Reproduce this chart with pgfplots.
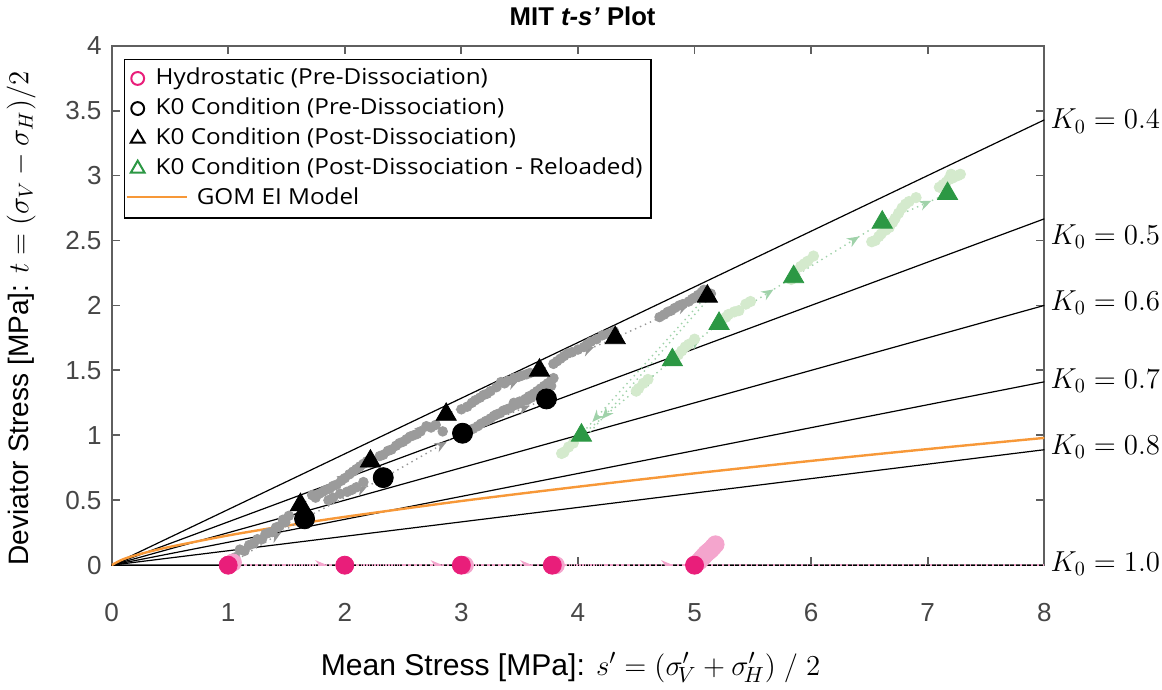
\documentclass[border=0pt]{standalone}
\usepackage{fontspec}
\setmainfont{Liberation Sans}
\newfontfamily\legfont[FakeStretch=1.1]{Open Sans}
\usepackage{pgfplots}
\pgfplotsset{compat=1.18}
\usetikzlibrary{decorations.markings, arrows.meta}
\definecolor{pinkc}{RGB}{233,30,122}
\definecolor{pinkl}{RGB}{244,165,205}
\definecolor{greenc}{RGB}{44,152,68}
\definecolor{greenl}{RGB}{212,234,205}
\definecolor{greena}{RGB}{160,210,170}
\definecolor{grayd}{RGB}{155,155,155}
\definecolor{graya}{RGB}{150,150,150}
\definecolor{orangec}{RGB}{247,152,56}
\definecolor{axisgray}{RGB}{95,95,95}
\definecolor{ticklab}{RGB}{70,70,70}
\tikzset{
  seg/.style={dotted, line width=0.7pt, postaction={decorate},
    decoration={markings, mark=at position #1 with {\arrow{Stealth[length=6pt,width=5pt]}}}},
  seg/.default=0.8
}
\begin{document}
\begin{tikzpicture}
\begin{axis}[
  width=465pt, height=259pt, scale only axis,
  xmin=0, xmax=8, ymin=0, ymax=4,
  xtick={0,1,...,8}, ytick={0,0.5,...,4},
  tick align=inside, major tick length=4pt,
  axis line style={draw=axisgray, line width=1pt},
  every tick/.style={draw=axisgray, line width=0.9pt},
  tick label style={font=\fontsize{13}{15}\selectfont, text=ticklab},
  /pgf/number format/assume math mode=true,
  xticklabel style={yshift=-15.5pt},
  yticklabel style={xshift=-1.5pt},
  clip mode=individual,
  title={\fontsize{12.8}{14}\selectfont\bfseries MIT \textit{t-s’} Plot},
  title style={at={(axis description cs:0.505,1)}, above, yshift=0.5pt},
  xlabel={\fontsize{15}{17}\selectfont Mean Stress [MPa]: $s' = \bigl(\sigma'_{\!V} + \sigma'_{\!H}\bigr)\;/\;2$},
  xlabel style={at={(axis description cs:0.492,-0.197)}, anchor=center},
  ylabel={\fontsize{14}{16}\selectfont Deviator Stress [MPa]: $t = \bigl(\sigma_{V} - \sigma_{H}\bigr)/2$},
  ylabel style={at={(axis description cs:-0.097,0.475)}, anchor=center},
  legend style={at={(axis description cs:0,1)}, anchor=north west, xshift=6pt, yshift=-6.5pt,
    draw=black, line width=0.7pt, font=\legfont\fontsize{11}{13}\selectfont,
    inner xsep=3.2pt, inner ysep=3pt, row sep=2pt, column sep=4.5pt,
    nodes={inner sep=1pt, text height=8.5pt, text depth=2.5pt}},
  legend cell align=left,
  legend image code/.code={\draw[mark repeat=2, mark phase=2, #1] plot coordinates {(0pt,0pt) (3pt,0pt) (6pt,0pt)};},
]
% legend
\addlegendimage{only marks, mark=o, mark size=3.2pt, draw=pinkc, line width=1pt}
\addlegendentry{Hydrostatic (Pre-Dissociation)}
\addlegendimage{only marks, mark=o, mark size=3.2pt, draw=black, line width=1pt}
\addlegendentry{K0 Condition (Pre-Dissociation)}
\addlegendimage{only marks, mark=triangle, mark size=4pt, draw=black, line width=1pt}
\addlegendentry{K0 Condition (Post-Dissociation)}
\addlegendimage{only marks, mark=triangle, mark size=4pt, draw=greenc, line width=1pt}
\addlegendentry{K0 Condition (Post-Dissociation - Reloaded)}
\addlegendimage{legend image code/.code={}}
\addlegendentry{\hspace*{-14.5pt}\textcolor{orangec}{\rule[0.3em]{30pt}{1.2pt}}\hspace*{5pt}GOM EI Model}

% K0 lines
\addplot[black, line width=0.6pt, forget plot] coordinates {(0,0) (8,3.4286)};
\addplot[black, line width=0.6pt, forget plot] coordinates {(0,0) (8,2.6667)};
\addplot[black, line width=0.6pt, forget plot] coordinates {(0,0) (8,2.0)};
\addplot[black, line width=0.6pt, forget plot] coordinates {(0,0) (8,1.4118)};
\addplot[black, line width=0.6pt, forget plot] coordinates {(0,0) (8,0.8889)};
\addplot[black, line width=0.6pt, forget plot] coordinates {(0,0) (8,0)};
% GOM EI model
\addplot[orangec, line width=1.2pt, smooth, forget plot] coordinates {
(0,0) (0.1,0.046) (0.25,0.087) (0.5,0.141) (1,0.229) (1.5,0.304) (2,0.372)
(3,0.494) (4,0.604) (5,0.707) (6,0.803) (7,0.894) (8,0.98)};

% hydrostatic dotted path with arrows
\addplot[pinkl, dotted, line width=0.8pt, forget plot] coordinates {(1,0) (8,0)};
\addplot[pinkl, seg=0.85, forget plot] coordinates {(1,0) (2,0)};
\addplot[pinkl, seg=0.84, forget plot] coordinates {(2,0) (3,0)};
\addplot[pinkl, seg=0.78, forget plot] coordinates {(3,0) (3.78,0)};
\addplot[pinkl, seg=0.85, forget plot] coordinates {(3.78,0) (5,0)};

% gray dotted paths
\addplot[graya, seg=0.7, forget plot] coordinates {(1.0,0.0) (1.65,0.36)};
\addplot[graya, seg=0.8, forget plot] coordinates {(1.65,0.36) (2.33,0.67)};
\addplot[graya, seg=0.8, forget plot] coordinates {(2.33,0.67) (3.01,1.02)};
\addplot[graya, seg=0.8, forget plot] coordinates {(3.01,1.02) (3.73,1.28)};
\addplot[graya, seg=0.7, forget plot] coordinates {(1.62,0.465) (2.22,0.80)};
\addplot[graya, seg=0.75, forget plot] coordinates {(2.22,0.80) (2.87,1.16)};
\addplot[graya, seg=0.78, forget plot] coordinates {(2.87,1.16) (3.67,1.50)};
\addplot[graya, seg=0.72, forget plot] coordinates {(3.67,1.50) (4.32,1.75)};
\addplot[graya, seg=0.8, forget plot] coordinates {(4.32,1.75) (5.11,2.07)};

% green dotted paths
\addplot[greena, seg=0.93, forget plot] coordinates {(5.08,2.05) (4.05,1.03)};
\addplot[greena, seg=0.9, forget plot] coordinates {(5.13,2.06) (4.10,1.02)};
\addplot[greena, seg=0.8, forget plot] coordinates {(4.03,1.0) (4.81,1.58)};
\addplot[greena, seg=0.6, forget plot] coordinates {(4.81,1.58) (5.21,1.86)};
\addplot[greena, seg=0.73, forget plot] coordinates {(5.21,1.86) (5.85,2.22)};
\addplot[greena, seg=0.74, forget plot] coordinates {(5.85,2.22) (6.61,2.64)};
\addplot[greena, seg=0.75, forget plot] coordinates {(6.61,2.64) (7.17,2.86)};

% gray scatter
\addplot[grayd, only marks, mark=*, mark size=2.4pt, forget plot] coordinates {
(1.06,0.06) (1.10,0.12) (1.14,0.11) (1.18,0.155) (1.22,0.17) (1.25,0.20) (1.29,0.20) (1.32,0.24) (1.35,0.25) (1.38,0.255) (1.41,0.29) (1.44,0.30) (1.47,0.35) (1.52,0.38) (1.49,0.33)
(1.72,0.54) (1.75,0.52) (1.78,0.55) (1.81,0.565) (1.84,0.58) (1.87,0.59) (1.90,0.61) (1.93,0.62) (1.97,0.65) (2.0,0.67) (2.04,0.70) (2.07,0.72) (2.10,0.74) (2.13,0.76) (2.16,0.78) (2.19,0.80)
(2.30,0.84) (2.33,0.85) (2.37,0.88) (2.40,0.89) (2.44,0.92) (2.47,0.94) (2.50,0.95) (2.53,0.97) (2.56,0.99) (2.59,1.00) (2.62,1.01) (2.65,1.03) (2.70,1.07) (2.74,1.06) (2.78,1.08) (2.84,1.03)
(1.86,0.50) (1.90,0.52) (1.96,0.55) (2.02,0.565) (2.06,0.58) (2.10,0.60) (2.16,0.64)
(3.0,1.20) (3.05,1.22) (3.09,1.25) (3.12,1.27) (3.16,1.29) (3.19,1.31) (3.22,1.32) (3.25,1.34) (3.30,1.37) (3.34,1.41) (3.37,1.40) (3.40,1.42) (3.45,1.44) (3.49,1.45) (3.52,1.46) (3.56,1.47) (3.59,1.48)
(3.06,1.04) (3.10,1.05) (3.14,1.07) (3.17,1.09) (3.21,1.11) (3.25,1.13) (3.28,1.15) (3.30,1.16) (3.33,1.17) (3.36,1.19) (3.39,1.20) (3.42,1.21) (3.45,1.23) (3.48,1.24) (3.52,1.26) (3.55,1.28) (3.58,1.30) (3.62,1.32)
(3.65,1.34) (3.68,1.36) (3.71,1.38) (3.74,1.40) (3.77,1.42) (3.79,1.44) (3.77,1.38) (3.74,1.35) (3.70,1.33) (3.66,1.31) (3.60,1.29) (3.56,1.27) (3.50,1.26) (3.45,1.25)
(3.79,1.55) (3.82,1.57) (3.85,1.59) (3.88,1.61) (3.91,1.63) (3.95,1.64) (4.0,1.66) (4.05,1.68) (4.08,1.70) (4.11,1.72) (4.16,1.74) (4.21,1.77) (4.26,1.78) (4.31,1.80)
(4.70,1.91) (4.74,1.93) (4.77,1.95) (4.80,1.96) (4.83,1.98) (4.87,2.00) (4.90,2.01) (4.95,2.03) (4.98,2.05) (5.0,2.06) (5.03,2.08) (5.06,2.10) (5.08,2.12) (5.14,2.09)
};

% light green scatter
\addplot[greenl, only marks, mark=*, mark size=2.6pt, forget plot] coordinates {
(3.86,0.86) (3.88,0.87) (3.92,0.91) (3.96,0.94)
(4.50,1.34) (4.52,1.36) (4.56,1.40) (4.60,1.43)
(4.86,1.62) (4.89,1.65) (4.92,1.68) (4.95,1.70) (5.0,1.74)
(5.27,1.91) (5.29,1.93) (5.34,1.95) (5.38,1.96) (5.44,2.01) (5.48,2.03)
(5.83,2.20) (5.86,2.24) (5.91,2.30) (5.94,2.32) (5.97,2.34) (6.02,2.38)
(6.52,2.49) (6.55,2.50) (6.58,2.53) (6.60,2.55) (6.64,2.58) (6.67,2.60) (6.70,2.64) (6.72,2.67) (6.75,2.71) (6.78,2.75) (6.81,2.78) (6.84,2.80) (6.90,2.83)
(7.10,2.91) (7.13,2.93) (7.16,2.95) (7.18,2.97) (7.21,2.98) (7.23,2.99) (7.26,3.0) (7.28,3.01) (7.20,3.01)
};

% pink blob near 5
\addplot[pinkl, only marks, mark=*, mark size=4.3pt, forget plot] coordinates {
(5.04,0.03) (5.06,0.05) (5.08,0.07) (5.10,0.09) (5.12,0.105) (5.14,0.12) (5.16,0.14) (5.18,0.16)
(3.03,0.0) (3.81,0.0) (1.04,0.02)};

% hydrostatic markers
\addplot[pinkc, only marks, mark=*, mark size=4.5pt, forget plot] coordinates {
(1,0) (2,0) (3,0) (3.78,0) (5,0)};
% K0 pre markers
\addplot[black, only marks, mark=*, mark size=5pt, forget plot] coordinates {
(1.655,0.357) (2.33,0.674) (3.01,1.016) (3.73,1.28)};
% K0 post markers
\addplot[black, only marks, mark=triangle*, mark size=5.8pt, forget plot] coordinates {
(1.62,0.465) (2.22,0.80) (2.87,1.16) (3.67,1.50) (4.32,1.75) (5.11,2.07)};
% K0 reloaded markers
\addplot[greenc, only marks, mark=triangle*, mark size=5.8pt, forget plot] coordinates {
(4.03,1.0) (4.81,1.58) (5.21,1.86) (5.85,2.22) (6.61,2.64) (7.17,2.86)};

% K0 labels
\tikzset{k0lab/.style={anchor=west, inner sep=1pt, xshift=2pt, font=\fontsize{14}{16}\selectfont}}
\node[k0lab] at (axis cs:8,3.42) {$K_0 = 0.4$};
\node[k0lab] at (axis cs:8,2.53) {$K_0 = 0.5$};
\node[k0lab] at (axis cs:8,2.02) {$K_0 = 0.6$};
\node[k0lab] at (axis cs:8,1.42) {$K_0 = 0.7$};
\node[k0lab] at (axis cs:8,0.915) {$K_0 = 0.8$};
\node[k0lab] at (axis cs:8,0.01) {$K_0 = 1.0$};
\end{axis}
\end{tikzpicture}
\end{document}
